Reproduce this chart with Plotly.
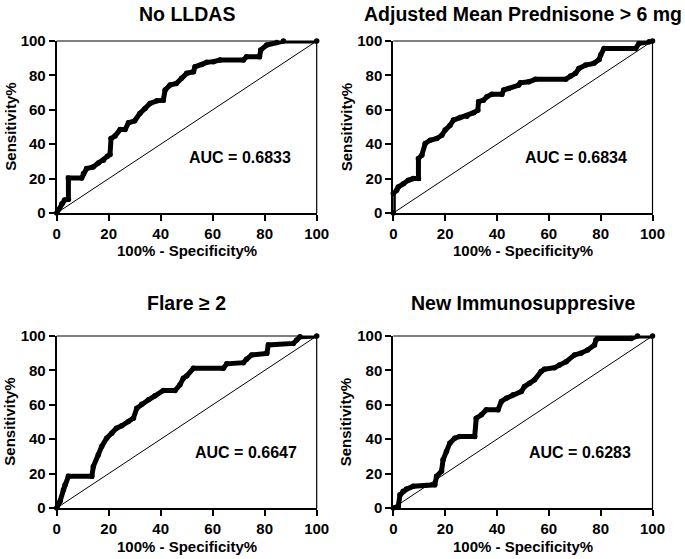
import plotly.graph_objects as go

W, H = 685, 559

# ROC curves: (100% - specificity, sensitivity)
lldas_x = [0, 2, 3, 4.5, 4.5, 9.6, 10.3, 11.5, 14, 16, 18, 19.5, 20.5, 20.9, 22.4, 24.4, 26.3, 27.6, 30, 32, 34, 35.9, 38.5, 41, 41.7, 43.6, 46, 48, 50, 52.6, 53.2, 55.8, 57.7, 60.3, 62.8, 71.8, 73, 78, 78.5, 80.8, 84.6, 87.2, 100]
lldas_y = [0, 5.4, 7.5, 8, 20.4, 20.4, 23, 25.8, 26.8, 29, 30.7, 33, 34, 43.3, 44.7, 48.5, 48.5, 52.4, 53.6, 57.9, 60.8, 63.7, 65.2, 65.6, 71.5, 74.4, 75.3, 78.3, 81.2, 82.1, 85, 86.4, 87.6, 88, 88.9, 88.9, 90.9, 90.9, 94.8, 97.7, 99.2, 100, 100]

pred_x = [0, 0, 1.3, 1.9, 3.9, 5.8, 7.7, 9.7, 9.7, 11, 12.3, 14.2, 16.8, 18.7, 20, 21.9, 23.2, 25.8, 28.4, 31, 32.6, 32.9, 34.8, 36.1, 38, 41.9, 42.6, 44.5, 48.4, 49, 52.3, 54.8, 66.5, 68.4, 70.3, 71.6, 74.2, 77.4, 79.4, 80, 81.3, 93.5, 94.8, 98.7, 100]
pred_y = [0, 11.3, 13.2, 15.1, 17, 19, 20, 20, 31.7, 33.6, 40.4, 42.3, 43.3, 45.2, 48.2, 51, 54, 55.5, 56.3, 58.3, 59.8, 64.7, 65.6, 67.6, 69.1, 69.1, 71.5, 72.4, 74.4, 75.7, 76.3, 77.7, 77.7, 79.6, 81.2, 84, 86, 87, 89.3, 91.8, 95.7, 95.7, 98.6, 99.6, 100]

flare_x = [0, 1.3, 2.6, 3.2, 4.5, 13.5, 14.1, 16, 17.3, 19.2, 21.2, 23, 25, 27.6, 29.5, 30.8, 32.7, 35.3, 37.8, 41, 45.5, 47.4, 48.7, 50, 52.6, 64.1, 65.4, 71.8, 73, 75, 80.8, 81.4, 91, 92.3, 93.6, 100]
flare_y = [0, 3.9, 10.6, 13.5, 18.4, 18.4, 24.2, 31, 35.8, 40.6, 43.5, 46.4, 47.8, 50.3, 52.2, 58, 60.3, 62.9, 65.2, 68.3, 68.3, 71.6, 75.4, 76.8, 81.2, 81.2, 83.8, 84.5, 86.5, 89, 89.9, 94.8, 95.7, 97.7, 99.6, 100]

immu_x = [0, 1.9, 2.6, 3.8, 5.1, 7.7, 16, 16.7, 18.6, 19.2, 20.5, 21.8, 23.7, 25.6, 31.4, 32, 34, 35.9, 40.4, 41.7, 43.6, 46.2, 49.4, 50.6, 52.6, 54.5, 57, 58.3, 62.2, 64.1, 66.7, 69.9, 72.4, 75, 77.6, 78.2, 78.8, 91.7, 94.2, 100]
immu_y = [0, 1, 7.7, 9.7, 11, 12.6, 13.5, 18.4, 21.3, 28, 32.9, 37.7, 40.6, 41.6, 41.6, 52.2, 54.2, 57.1, 57.1, 61.9, 63.8, 65.8, 67.7, 70.6, 72.5, 74.5, 79.3, 80.7, 81.6, 83.2, 85.1, 89, 90, 91.9, 94.8, 97.7, 98.6, 98.6, 100, 100]

titles = ["No LLDAS", "Adjusted Mean Prednisone > 6 mg", "Flare \u2265 2", "New Immunosuppresive"]
auc_labels = ["AUC = 0.6833", "AUC = 0.6834", "AUC = 0.6647", "AUC = 0.6283"]
auc_pos_x = [70.5, 70.4, 72.8, 71.9]
tick_vals = [0, 20, 40, 60, 80, 100]
tick_text = ["0", "20", "40", "60", "80", "100"]

curves = [(lldas_x, lldas_y), (pred_x, pred_y), (flare_x, flare_y), (immu_x, immu_y)]

# pixel layout of panels in the reference: (left, right, top, bottom)
panels = [(56.7, 316.7, 41, 213), (393.3, 652.5, 41, 213),
          (56.7, 316.7, 336, 508), (393.3, 652.5, 336, 508)]
title_pos = [(187, 14), (522.5, 14), (187, 303), (522.5, 303)]


def px(x):
    return x / W


def py(y):
    return 1 - y / H


FONT = "Liberation Sans, Arial, sans-serif"
fig = go.Figure()
annotations = []
shapes = []
for i, ((cx, cy), (l, r, t, b)) in enumerate(zip(curves, panels)):
    n = "" if i == 0 else str(i + 1)
    xa, ya = "x" + n, "y" + n
    fig.add_trace(go.Scatter(x=[0, 100], y=[0, 100], mode="lines",
                             line=dict(color="black", width=1), xaxis=xa, yaxis=ya,
                             showlegend=False, hoverinfo="skip"))
    fig.add_trace(go.Scatter(x=cx, y=cy, mode="lines+markers",
                             line=dict(color="black", width=5),
                             marker=dict(color="black", size=5.5, symbol="circle"),
                             xaxis=xa, yaxis=ya, showlegend=False, cliponaxis=False))
    axis_common = dict(range=[0, 100], tickvals=tick_vals, ticktext=tick_text,
                       showgrid=False, zeroline=False, showline=True, linecolor="black",
                       linewidth=2, ticks="outside", ticklen=6, tickwidth=2, tickcolor="black",
                       automargin=False,
                       tickfont=dict(family=FONT, size=15, color="black", weight="bold"))
    fig.update_layout(**{
        "xaxis" + n: dict(domain=[px(l), px(r)], anchor=ya, **axis_common),
        "yaxis" + n: dict(domain=[py(b), py(t)], anchor=xa, **axis_common),
    })
    # thin top/right frame
    shapes.append(dict(type="line", xref=xa + " domain", yref=ya + " domain",
                       x0=0, x1=1, y0=1, y1=1, line=dict(color="black", width=1.2)))
    shapes.append(dict(type="line", xref=xa + " domain", yref=ya + " domain",
                       x0=1, x1=1, y0=0, y1=1, line=dict(color="black", width=1.2)))
    # AUC text
    annotations.append(dict(x=auc_pos_x[i], y=32, xref=xa, yref=ya, text=auc_labels[i],
                            showarrow=False, font=dict(family=FONT, size=16, color="black", weight="bold")))
    # panel title
    tx, ty = title_pos[i]
    annotations.append(dict(x=px(tx), y=py(ty), xref="paper", yref="paper", text=titles[i],
                            showarrow=False, xanchor="center", yanchor="middle",
                            font=dict(family=FONT, size=19.5, color="black", weight="bold")))
    # axis titles
    annotations.append(dict(x=px((l + r) / 2), y=py(b + 38), xref="paper", yref="paper",
                            text="100% - Specificity%", showarrow=False, xanchor="center", yanchor="middle",
                            font=dict(family=FONT, size=15, color="black", weight="bold")))
    annotations.append(dict(x=px(l - 47), y=py((t + b) / 2), xref="paper", yref="paper",
                            text="Sensitivity%", showarrow=False, textangle=-90,
                            xanchor="center", yanchor="middle",
                            font=dict(family=FONT, size=15, color="black", weight="bold")))

fig.update_layout(width=W, height=H, margin=dict(l=0, r=0, t=0, b=0, autoexpand=False),
                  paper_bgcolor="white", plot_bgcolor="white",
                  annotations=annotations, shapes=shapes)
fig.write_html("out.html", config={"displayModeBar": False},
               post_script="document.body.style.margin='0';")
